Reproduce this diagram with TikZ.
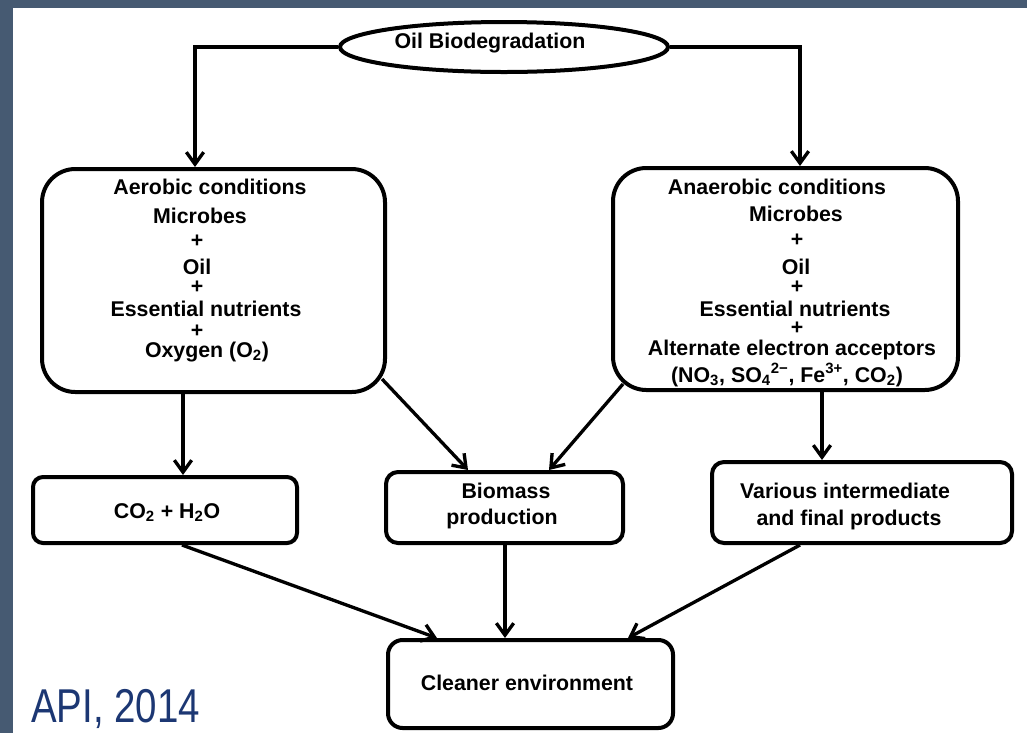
\documentclass[tikz,border=0pt]{standalone}
\usepackage{fontspec}
\setmainfont{Liberation Sans}
\usetikzlibrary{arrows.meta,calc,shapes.geometric}
\newlength{\upx}\setlength{\upx}{0.75pt}
\definecolor{framecol}{RGB}{70,90,114}
\definecolor{apiblue}{RGB}{28,55,115}
\begin{document}
\begin{tikzpicture}[x=0.75pt,y=-0.75pt,
  box/.style={draw, line width=3pt, rounded corners=#1, inner sep=0pt},
  box/.default=8pt,
  lbl/.style={anchor=base, inner sep=0pt, font=\bfseries\fontsize{16}{19}\selectfont},
  arr/.style={line width=2.5pt, -{Straight Barb[length=9pt,width=13pt]}}]
\useasboundingbox (0,0) rectangle (1027,733);
\fill[framecol] (0,0) rectangle (1027,733);
\fill[white] (13,8) rectangle (1027,733);

% top ellipse
\node[ellipse, draw, line width=3pt, minimum width=328\upx, minimum height=50\upx, inner sep=0pt] (bio) at (504,47) {};
\node[lbl] (biot) at (490,48) {Oil Biodegradation};

% boxes
\node[box=25pt, minimum width=343\upx, minimum height=223\upx] (aer) at (213.5,280.5) {};
\node[box=25pt, minimum width=345\upx, minimum height=222\upx] (ana) at (785.5,279) {};
\node[box=7.5pt, minimum width=264\upx, minimum height=66\upx] (co2) at (165,510) {};
\node[box=9pt, minimum width=237\upx, minimum height=71\upx] (bm) at (504.5,507.5) {};
\node[box=9pt, minimum width=300\upx, minimum height=81\upx] (var) at (862,502.5) {};
\node[box=11pt, minimum width=285\upx, minimum height=88\upx] (cln) at (530.5,684) {};

% aerobic text
\foreach \x/\y/\t [count=\i] in {210/194/Aerobic conditions, 200/223/Microbes, 197/247/+, 197/274/Oil, 197/293/+, 206/316/Essential nutrients, 197/337/+, 207/357/{Oxygen (O\textsubscript{2})}}
  \node[lbl] (aer-\i) at (\x,\y) {\t};

% anaerobic text
\foreach \x/\y/\t [count=\i] in {777/194/Anaerobic conditions, 796/221/Microbes, 797/246/+, 796/274/Oil, 797/293/+, 795/316/Essential nutrients, 797/334/+, 792/355/Alternate electron acceptors, 787/382/{(NO\textsubscript{3}, SO\textsubscript{4}\textsuperscript{2−}, Fe\textsuperscript{3+}, CO\textsubscript{2})}}
  \node[lbl] (ana-\i) at (\x,\y) {\t};

\node[lbl] (co2t) at (167,518) {CO\textsubscript{2} + H\textsubscript{2}O};
\node[lbl] (bmt1) at (506,498) {Biomass};
\node[lbl] (bmt2) at (502,524) {production};
\node[lbl] (vart1) at (845,498) {Various intermediate};
\node[lbl] (vart2) at (849,525) {and final products};
\node[lbl] (clnt) at (527,690) {Cleaner environment};

\node[anchor=base west, inner sep=0pt, text=apiblue, font=\fontsize{35.6}{40}\selectfont] (api) at (31,722) {\scalebox{0.81}[1]{API, 2014}};

% connectors
\draw[arr] (bio.west) -| ($(aer.north)+(-18.5,0)$);
\draw[arr] (bio.east) -| ($(ana.north)+(14.5,0)$);
\draw[arr] ($(aer.south)+(-30.5,0)$) -- ($(co2.north)+(18,0)$);
\draw[arr] ($(aer.south east)+(-5,-15)$) -- ($(bm.north)+(-36.5,0)$);
\draw[arr] ($(ana.south west)+(12,-8)$) -- ($(bm.north)+(44.5,0)$);
\draw[arr] ($(ana.south)+(36.5,0)$) -- ($(var.north)+(-40,0)$);
\draw[arr] ($(co2.south)+(17,0)$) -- ($(cln.north)+(-93.5,0)$);
\draw[arr] ($(bm.south)+(0.5,0)$) -- ($(cln.north)+(-25.5,0)$);
\draw[arr] ($(var.south west)+(90,0)$) -- ($(cln.north)+(97.5,0)$);
\end{tikzpicture}
\end{document}
